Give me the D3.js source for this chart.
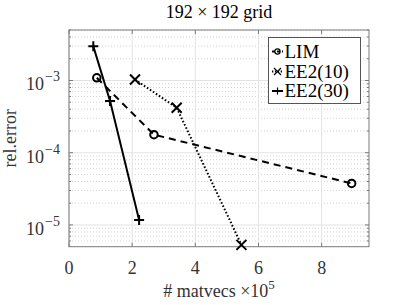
<!DOCTYPE html>
<html>
<head>
<meta charset="utf-8">
<script src="https://cdn.jsdelivr.net/npm/d3@7"></script>
<style>
  body { margin: 0; background: #fff; }
</style>
</head>
<body>
<div id="chart"></div>
<script>
// values (x in units of 1e5 matvecs)
var limX = [0.88, 2.69, 8.95];
var limY = [1.09e-3, 1.78e-4, 3.76e-5];
var ee10X = [2.09, 3.41, 5.46];
var ee10Y = [1.03e-3, 4.2e-4, 5.3e-6];
var ee30X = [0.77, 1.30, 2.22];
var ee30Y = [2.97e-3, 5.19e-4, 1.17e-5];
var xTicks = [0, 2, 4, 6, 8];
var yTicks = [-5, -4, -3];
var seriesNames = ["LIM", "EE2(10)", "EE2(30)"];

function init() {
    var w = 407;
    var h = 305;
    var left = 69, right = 369, top = 30, bottom = 246.7;

    var svg = d3.select("#chart")
        .append("svg")
        .attr("width", w)
        .attr("height", h)
        .attr("font-family", "'Liberation Serif', 'DejaVu Serif', serif");

    var x = d3.scaleLinear().domain([0, 9.5]).range([left, right]);
    var y = d3.scaleLog().domain([5e-6, 5e-3]).range([bottom, top]);

    // minor values for log grid
    var minor = [];
    for (var e = -6; e <= -3; e++) {
        for (var m = 2; m <= 9; m++) {
            var v = m * Math.pow(10, e);
            if (v >= 5e-6 && v <= 5e-3) minor.push(v);
        }
    }

    svg.selectAll(".minorgrid")
        .data(minor)
        .enter()
        .append("line")
        .attr("x1", left).attr("x2", right)
        .attr("y1", function (d) { return y(d); })
        .attr("y2", function (d) { return y(d); })
        .attr("stroke", "#c8c8c8")
        .attr("stroke-width", 0.8)
        .attr("stroke-dasharray", "1,2");

    svg.selectAll(".xgrid")
        .data(xTicks)
        .enter()
        .append("line")
        .attr("x1", function (d) { return x(d); })
        .attr("x2", function (d) { return x(d); })
        .attr("y1", top).attr("y2", bottom)
        .attr("stroke", "#e3e3e3")
        .attr("stroke-width", 1);

    svg.selectAll(".ygrid")
        .data(yTicks)
        .enter()
        .append("line")
        .attr("x1", left).attr("x2", right)
        .attr("y1", function (d) { return y(Math.pow(10, d)); })
        .attr("y2", function (d) { return y(Math.pow(10, d)); })
        .attr("stroke", "#e3e3e3")
        .attr("stroke-width", 1);

    // ticks (inside, all four sides)
    var axisColor = "#7a7a7a";
    var tk = svg.append("g").attr("stroke", axisColor).attr("stroke-width", 1);
    xTicks.forEach(function (d) {
        tk.append("line").attr("x1", x(d)).attr("x2", x(d)).attr("y1", bottom).attr("y2", bottom - 4);
        tk.append("line").attr("x1", x(d)).attr("x2", x(d)).attr("y1", top).attr("y2", top + 4);
    });
    yTicks.forEach(function (d) {
        var yy = y(Math.pow(10, d));
        tk.append("line").attr("x1", left).attr("x2", left + 4).attr("y1", yy).attr("y2", yy);
        tk.append("line").attr("x1", right).attr("x2", right - 4).attr("y1", yy).attr("y2", yy);
    });
    minor.forEach(function (d) {
        tk.append("line").attr("x1", left).attr("x2", left + 2).attr("y1", y(d)).attr("y2", y(d));
        tk.append("line").attr("x1", right).attr("x2", right - 2).attr("y1", y(d)).attr("y2", y(d));
    });

    svg.append("rect")
        .attr("x", left).attr("y", top)
        .attr("width", right - left).attr("height", bottom - top)
        .attr("fill", "none")
        .attr("stroke", axisColor)
        .attr("stroke-width", 1);

    // tick labels
    svg.selectAll(".xlab")
        .data(xTicks)
        .enter()
        .append("text")
        .attr("x", function (d) { return x(d); })
        .attr("y", 274)
        .attr("text-anchor", "middle")
        .attr("font-size", "18px")
        .attr("fill", "#333")
        .text(function (d) { return d; });

    yTicks.forEach(function (d) {
        var t = svg.append("text")
            .attr("x", 60)
            .attr("y", y(Math.pow(10, d)) + 10)
            .attr("text-anchor", "end")
            .attr("font-size", "18px")
            .attr("fill", "#333");
        t.append("tspan").text("10");
        t.append("tspan").attr("dx", 1).attr("dy", -9).attr("font-size", "14px").text("\u2212" + (-d));
    });

    // labels
    svg.append("text")
        .attr("x", (left + right) / 2)
        .attr("y", 18)
        .attr("text-anchor", "middle")
        .attr("font-size", "18px")
        .attr("fill", "#000")
        .text("192 \u00d7 192 grid");

    var xl = svg.append("text")
        .attr("x", 219)
        .attr("y", 296.5)
        .attr("text-anchor", "middle")
        .attr("font-size", "18px")
        .attr("fill", "#333");
    xl.append("tspan").text("# matvecs \u00d710");
    xl.append("tspan").attr("dy", -8).attr("font-size", "13px").text("5");

    svg.append("text")
        .attr("transform", "translate(16," + ((top + bottom) / 2) + ") rotate(-90)")
        .attr("text-anchor", "middle")
        .attr("font-size", "18px")
        .attr("fill", "#333")
        .text("rel.error");

    // data
    var series = [
        { xs: limX, ys: limY, dash: "7,5", marker: "o" },
        { xs: ee10X, ys: ee10Y, dash: "1.6,2", marker: "x" },
        { xs: ee30X, ys: ee30Y, dash: null, marker: "+" }
    ];

    var line = d3.line()
        .x(function (d) { return x(d[0]); })
        .y(function (d) { return y(d[1]); });

    function drawMarker(g, type, cx, cy, s) {
        if (type === "o") {
            g.append("circle").attr("cx", cx).attr("cy", cy).attr("r", s * 0.75)
                .attr("fill", "none").attr("stroke", "#000").attr("stroke-width", 2);
        } else if (type === "x") {
            g.append("path").attr("d", "M" + (cx - s) + "," + (cy - s) + "L" + (cx + s) + "," + (cy + s) +
                "M" + (cx - s) + "," + (cy + s) + "L" + (cx + s) + "," + (cy - s))
                .attr("stroke", "#000").attr("stroke-width", 2);
        } else {
            g.append("path").attr("d", "M" + (cx - s) + "," + cy + "L" + (cx + s) + "," + cy +
                "M" + cx + "," + (cy - s) + "L" + cx + "," + (cy + s))
                .attr("stroke", "#000").attr("stroke-width", 2);
        }
    }

    series.forEach(function (s) {
        var pts = s.xs.map(function (v, i) { return [v, s.ys[i]]; });
        svg.append("path")
            .datum(pts)
            .attr("d", line)
            .attr("fill", "none")
            .attr("stroke", "#000")
            .attr("stroke-width", 2)
            .attr("stroke-dasharray", s.dash);
        var g = svg.append("g");
        pts.forEach(function (p) {
            drawMarker(g, s.marker, x(p[0]), y(p[1]), 5);
        });
    });

    // legend
    var lg = svg.append("g");
    lg.append("rect")
        .attr("x", 268.5).attr("y", 37.5)
        .attr("width", 92).attr("height", 66)
        .attr("fill", "#fff")
        .attr("stroke", "#555")
        .attr("stroke-width", 1);
    var legY = [51.5, 71.5, 91];
    series.forEach(function (s, i) {
        lg.append("line")
            .attr("x1", 272).attr("x2", 283)
            .attr("y1", legY[i]).attr("y2", legY[i])
            .attr("stroke", "#000")
            .attr("stroke-width", 2)
            .attr("stroke-dasharray", s.dash ? (s.marker === "o" ? "3,2" : "1.3,1.6") : null);
        var mg = lg.append("g");
        drawMarker(mg, s.marker, 277.5, legY[i], 3.5);
        mg.selectAll("*").attr("stroke-width", 1.2);
        lg.append("text")
            .attr("x", 284.5)
            .attr("y", legY[i] + 6)
            .attr("font-size", "19px")
            .attr("fill", "#000")
            .text(seriesNames[i]);
    });
}

window.onload = init;
</script>
</body>
</html>
